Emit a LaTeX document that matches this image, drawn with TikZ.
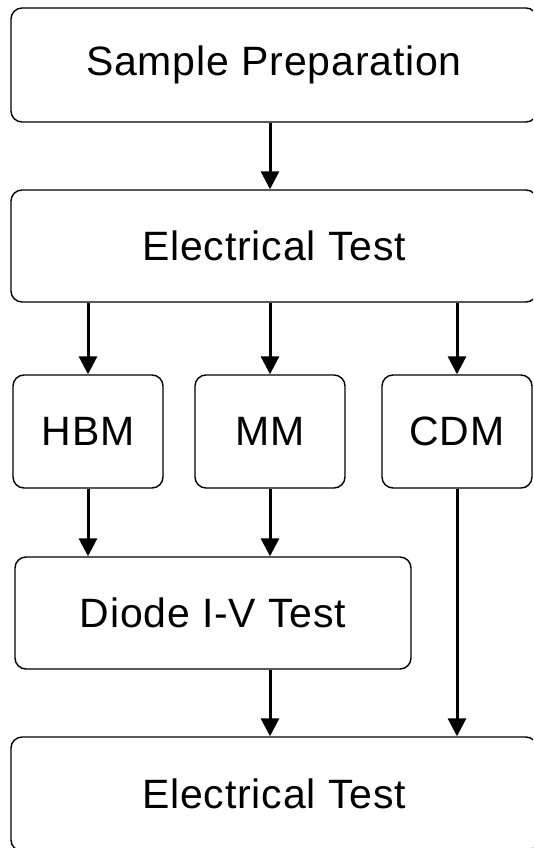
\documentclass[tikz,border=0pt]{standalone}
\usepackage{fontspec}
\setmainfont{Liberation Sans}[LetterSpace=2]
\usetikzlibrary{arrows.meta}
\begin{document}
\begin{tikzpicture}[x=1pt,y=-1pt,
  box/.style={draw, line width=1.4pt, rounded corners=11pt, inner sep=0pt,
    font=\fontsize{41}{44}\selectfont, align=center},
  flow/.style={line width=3pt, -{Triangle[width=18pt,length=18pt]}}]
\useasboundingbox (0,0) rectangle (533,848);
\clip (0,0) rectangle (533,848);
\node[box, minimum width=526pt, minimum height=114pt] (prep) at (274,65) {Sample Preparation};
\node[box, minimum width=526pt, minimum height=112pt] (et1) at (274,246) {Electrical Test};
\node[box, minimum width=150pt, minimum height=113pt] (hbm) at (88,431.5) {HBM};
\node[box, minimum width=150pt, minimum height=113pt] (mm) at (270,431.5) {MM};
\node[box, minimum width=150pt, minimum height=113pt] (cdm) at (457,431.5) {CDM};
\node[box, minimum width=396pt, minimum height=112pt] (iv) at (213,613) {Diode I-V Test};
\node[box, minimum width=526pt, minimum height=114pt] (et2) at (274,794) {Electrical Test};
\draw[flow] (prep.south -| mm) -- (et1.north -| mm);
\draw[flow] (et1.south -| hbm) -- (hbm.north);
\draw[flow] (et1.south -| mm) -- (mm.north);
\draw[flow] (et1.south -| cdm) -- (cdm.north);
\draw[flow] (hbm.south) -- (iv.north -| hbm);
\draw[flow] (mm.south) -- (iv.north -| mm);
\draw[flow] (iv.south -| mm) -- (et2.north -| mm);
\draw[flow] (cdm.south) -- (et2.north -| cdm);
\end{tikzpicture}
\end{document}
